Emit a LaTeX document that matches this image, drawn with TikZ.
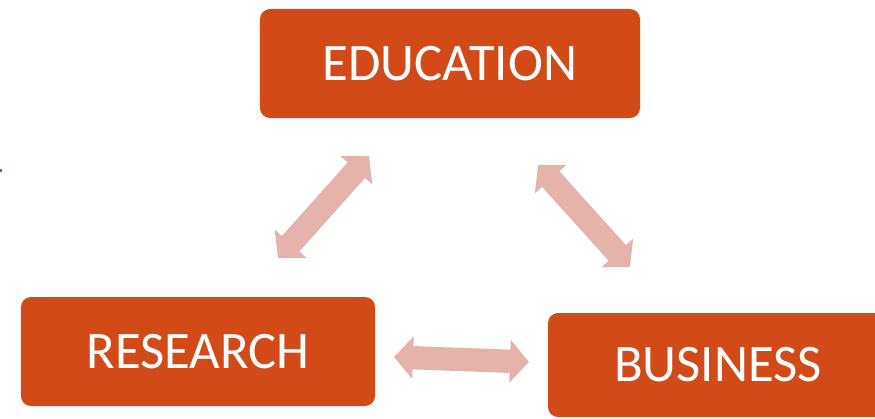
\documentclass[tikz,border=0pt]{standalone}
\usepackage{fontspec}
\setmainfont{Carlito}
\usepackage{tikz}
\usetikzlibrary{arrows.meta}
\usetikzlibrary{positioning}
\definecolor{boxred}{HTML}{D24A18}
\definecolor{linkpink}{HTML}{E6B2AC}
\tikzset{box/.style = {fill = boxred, rounded corners = 0.3cm, text = white,
    font = \fontsize{45}{50}\selectfont, inner sep = 0}}
\tikzset{link/.style = {linkpink, line width = 0.7cm,
    {Triangle[length = 0.57cm, width = 1.25cm]}-{Triangle[length = 0.57cm, width = 1.25cm]}}}

\begin{document}
\begin{tikzpicture}[x = 0.03cm, y = -0.03cm]
      \clip (0, 0) rectangle (875, 418);
      \node [box, minimum width = 11.4cm, minimum height = 3.27cm] (edu) at (450, 63.5) {EDUCATION};
      \node [box, minimum width = 10.62cm, minimum height = 3.27cm] (res) at (198, 351.5) {RESEARCH};
      \node [box, minimum width = 10.2cm, minimum height = 3.12cm] (bus) at (718, 365) {BUSINESS};

      \coordinate (edu-l) at (369, 156);
      \coordinate (res-t) at (278, 258);
      \coordinate (edu-r) at (538, 165);
      \coordinate (bus-t) at (630, 267);
      \coordinate (res-r) at (394, 357);
      \coordinate (bus-l) at (529, 362);
      \draw [link] (res-t) -- (edu-l);
      \draw [link] (edu-r) -- (bus-t);
      \draw [link] (res-r) -- (bus-l);

      \fill [boxred] (0, 168.5) rectangle (2, 171.5);
    \end{tikzpicture}
\end{document}
